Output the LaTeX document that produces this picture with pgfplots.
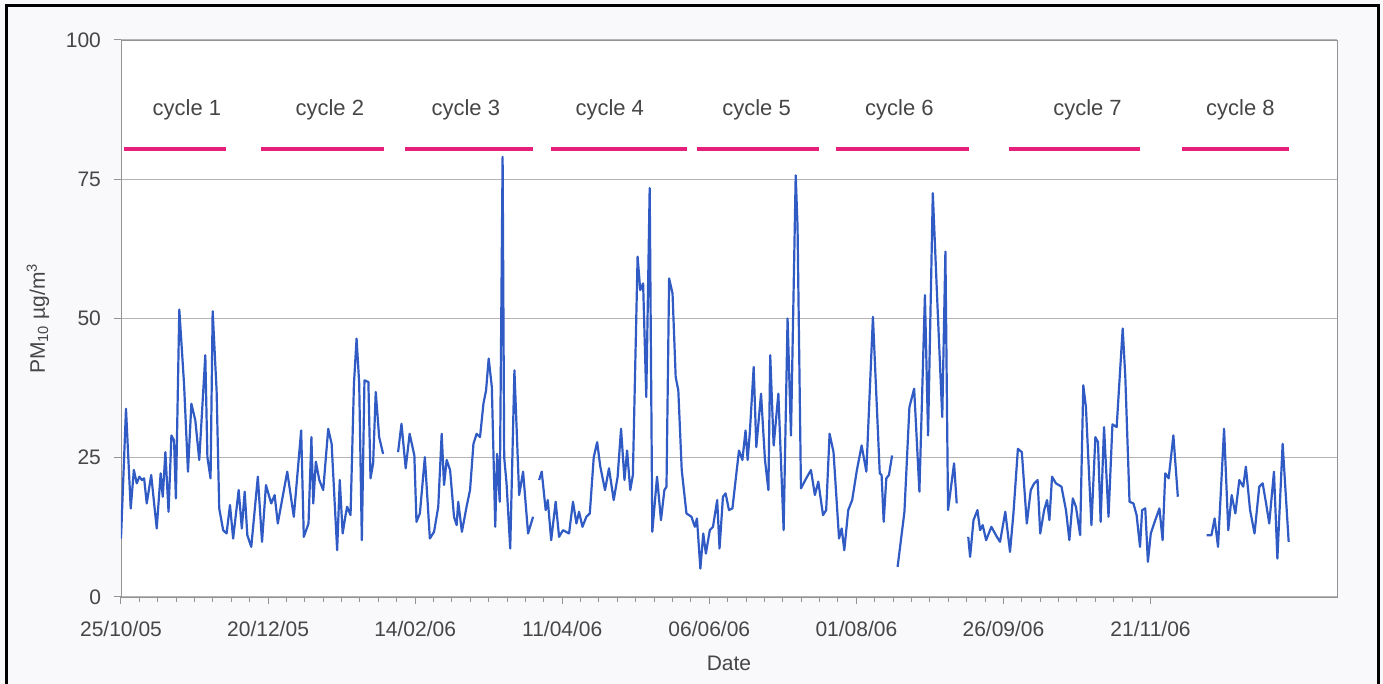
\documentclass[border=0pt]{standalone}
\usepackage{pgfplots}
\pgfplotsset{compat=1.18}
\usepackage{fontspec}
\setmainfont{Liberation Sans}
\definecolor{pmblue}{RGB}{48,90,196}
\definecolor{cyclepink}{RGB}{228,32,122}
\definecolor{gridgray}{RGB}{180,180,180}
\definecolor{labelgray}{RGB}{70,70,70}
\definecolor{bgtint}{RGB}{249,249,252}
\begin{document}
\begin{tikzpicture}[x=1pt,y=1pt]
\useasboundingbox (-60.5,-43.5) rectangle (631,298.5);
\fill[bgtint] (-60.5,-43.5) rectangle (631,298.5);
\draw[black, line width=1.5pt] (-57,-60) -- (-57,295.5) -- (628.5,295.5) -- (628.5,-60);
\begin{axis}[
  at={(0,0)}, anchor=south west, scale only axis,
  width=608pt, height=278.5pt,
  xmin=0, xmax=463, ymin=0, ymax=100,
  unbounded coords=jump,
  axis background/.style={fill=white},
  axis line style={draw=gray!85},
  ytick={0,25,50,75,100},
  ymajorgrids, grid style={gridgray, line width=0.5pt},
  xtick={0,56,112,168,224,280,336,392},
  xticklabels={25/10/05,20/12/05,14/02/06,11/04/06,06/06/06,01/08/06,26/09/06,21/11/06},
  minor x tick num=7,
  tick align=outside, tick pos=left,
  major tick length=3.5pt, minor tick length=2.5pt,
  tick style={gray!85, line width=0.5pt},
  /pgf/number format/assume math mode=true,
  tick label style={font=\fontsize{10.5}{12}\selectfont, text=labelgray},
  xticklabel style={yshift=-5pt},
  yticklabel style={xshift=-3pt},
  every axis x label/.style={at={(axis description cs:0.5,0)}, anchor=center, yshift=-33pt, font=\fontsize{10.5}{12}\selectfont, text=labelgray},
  every axis y label/.style={at={(axis description cs:-0.0683,0.5)}, rotate=90, anchor=center, font=\fontsize{10.5}{12}\selectfont, text=labelgray},
  xlabel={Date},
  ylabel={PM\textsubscript{10} µg/m\textsuperscript{3}},
]
\addplot[pmblue, line width=1.1pt, line join=round] table[row sep=\\] {
x y\\
0 10.5\\ 1.9 33.8\\ 3.7 15.9\\ 4.9 22.8\\ 6.0 20.4\\ 7.0 21.6\\ 8.0 21.0\\ 8.8 21.3\\ 9.8 16.8\\
11.5 21.9\\ 13.6 12.3\\ 15.1 22.2\\ 15.9 18.0\\ 16.9 26.0\\ 18.1 15.3\\ 19.2 29.0\\ 20.2 28.1\\
20.9 17.7\\ 22.2 51.6\\ 24.0 38.3\\ 25.5 22.5\\ 26.8 34.7\\ 28.3 31.7\\ 29.8 24.6\\ 32.1 43.4\\
32.9 25.1\\ 34.1 21.3\\ 34.9 51.3\\ 36.4 37.1\\ 37.4 15.9\\ 38.9 12.0\\ 40.2 11.4\\ 41.5 16.5\\
42.7 10.5\\ 44.8 19.2\\ 46.0 12.3\\ 47.1 18.9\\ 48.1 11.1\\ 49.6 9.0\\ 52.1 21.6\\ 53.7 9.9\\
55.2 20.1\\ 57.2 16.8\\ 58.5 18.3\\ 59.7 13.2\\ 63.3 22.5\\ 65.8 14.4\\ 68.6 29.9\\ 69.6 10.8\\
71.4 13.2\\ 72.5 28.7\\ 73.2 16.8\\ 74.2 24.3\\ 75.5 21.0\\ 77.0 19.2\\ 78.9 30.2\\ 80.2 27.5\\
82.3 8.4\\ 83.3 21.0\\ 84.4 11.4\\ 85.4 14.4\\ 86.1 16.2\\ 87.4 14.7\\ 88.7 38.3\\ 89.7 46.4\\
90.7 38.3\\ 91.7 10.2\\ 92.7 38.9\\ 94.2 38.6\\ 95.0 21.3\\ 96.0 24.0\\ 97.0 36.8\\ 98.3 28.7\\
99.8 25.7\\ 102 nan\\
105.5 26.0\\ 106.8 31.1\\ 108.4 23.1\\ 109.9 29.3\\ 111.7 25.4\\ 112.5 13.5\\ 113.8 15.0\\
115.7 25.1\\ 117.6 10.5\\ 119.2 11.7\\ 120.8 16.2\\ 122.1 29.3\\ 123.0 20.1\\ 124.0 24.6\\
125.3 22.8\\ 126.8 14.4\\ 127.8 12.9\\ 128.4 17.1\\ 129.8 11.7\\ 131.7 16.5\\ 132.9 19.2\\
134.2 27.5\\ 135.4 29.3\\ 136.7 28.7\\ 138.0 34.7\\ 139.0 37.1\\ 140.0 42.8\\ 141.2 37.7\\
142.5 12.6\\ 143.2 25.7\\ 144.2 17.1\\ 145.3 79.0\\ 145.9 25.1\\ 146.8 20.4\\ 148.2 8.7\\
149.8 40.7\\ 151.6 18.3\\ 153.1 22.5\\ 155.0 11.4\\ 156.9 14.4\\ 158 nan\\
159.2 21.0\\ 160.2 22.5\\ 161.7 15.6\\ 162.5 17.4\\ 163.8 10.2\\ 165.5 17.1\\ 166.8 10.8\\
168.3 12.0\\ 170.6 11.4\\ 172.1 17.1\\ 173.4 13.2\\ 174.4 15.3\\ 175.7 12.6\\ 177.2 14.4\\
178.5 15.0\\ 180.0 25.1\\ 181.3 27.8\\ 182.5 23.4\\ 184.3 19.2\\ 185.8 23.1\\ 187.6 17.4\\
189.1 21.6\\ 190.4 30.2\\ 191.7 21.0\\ 192.7 26.3\\ 193.9 19.2\\ 194.9 21.9\\ 196.7 61.1\\
197.7 55.1\\ 198.8 56.3\\ 200.0 35.9\\ 201.3 73.4\\ 202.3 11.7\\ 204.1 21.6\\ 205.6 13.8\\
206.9 19.2\\ 207.7 19.8\\ 208.7 57.2\\ 210.0 54.5\\ 211.2 39.5\\ 212.2 37.1\\ 213.5 22.8\\
215.3 15.0\\ 217.2 14.4\\ 218.5 12.6\\ 219.3 14.1\\ 220.6 5.1\\ 221.7 11.4\\ 222.7 7.8\\
224.2 12.0\\ 225.4 12.6\\ 227.0 17.4\\ 227.9 8.7\\ 229.2 18.0\\ 230.2 18.6\\ 231.5 15.6\\
232.8 15.9\\ 235.3 26.3\\ 236.6 24.6\\ 237.8 29.9\\ 238.6 24.6\\ 239.4 29.3\\ 240.9 41.3\\
241.9 26.9\\ 243.7 36.5\\ 245.2 24.6\\ 246.5 19.2\\ 247.2 43.4\\ 248.5 27.2\\ 250.3 36.5\\
252.3 12.0\\ 253.8 50.0\\ 255.1 29.0\\ 256.9 75.7\\ 257.6 66.5\\ 258.9 19.5\\ 260.9 21.3\\
262.7 22.8\\ 264.2 18.3\\ 265.5 20.7\\ 267.3 14.7\\ 268.5 15.6\\ 269.8 29.3\\ 271.3 26.0\\
273.4 10.5\\ 274.4 12.3\\ 275.4 8.4\\ 276.9 15.6\\ 278.4 17.4\\ 280.2 22.8\\ 282.0 27.2\\
283.8 22.5\\ 286.3 50.3\\ 288.9 22.2\\ 289.6 21.9\\ 290.4 13.5\\ 291.4 21.3\\ 292.4 21.9\\
293.6 25.4\\ 294.6 nan\\
295.7 5.4\\ 298.3 15.3\\ 300.2 34.1\\ 302.0 37.4\\ 304.0 18.9\\ 306.1 54.2\\ 307.3 29.0\\
309.1 72.5\\ 310.9 52.1\\ 312.7 32.3\\ 313.9 62.0\\ 314.9 15.6\\ 317.2 24.0\\ 318.2 16.8\\
320 nan\\
322.6 10.8\\ 323.3 7.2\\ 324.6 13.8\\ 326.1 15.6\\ 327.1 12.0\\ 328.1 12.9\\ 329.4 10.2\\
331.4 12.6\\ 333.5 10.8\\ 334.7 9.9\\ 336.7 15.3\\ 338.5 8.1\\ 339.8 15.0\\ 341.5 26.6\\
343.0 26.0\\ 344.9 13.2\\ 346.4 19.2\\ 347.7 20.4\\ 349.0 21.0\\ 350.0 11.4\\ 351.5 15.6\\
352.6 17.4\\ 353.5 13.8\\ 354.5 21.6\\ 356.0 20.4\\ 358.1 19.8\\ 359.8 15.6\\ 361.1 10.2\\
362.4 17.7\\ 363.6 16.2\\ 365.2 11.1\\ 366.4 38.0\\ 367.4 34.1\\ 369.5 12.9\\ 371.0 28.7\\
372.0 27.8\\ 373.0 13.5\\ 374.3 30.5\\ 376.0 14.4\\ 377.5 31.0\\ 379.1 30.5\\ 381.4 48.2\\
382.4 39.5\\ 384.0 17.1\\ 385.5 16.8\\ 386.7 14.7\\ 388.0 9.0\\ 388.8 15.6\\ 390.0 15.9\\
391.0 6.3\\ 392.1 11.4\\ 393.8 13.8\\ 395.4 15.9\\ 396.6 10.2\\ 397.6 22.2\\ 398.9 21.3\\
400.7 29.0\\ 402.4 18.0\\ 405 nan\\
413.4 11.1\\ 415.2 11.1\\ 416.4 14.1\\ 417.7 9.0\\ 420.0 30.2\\ 421.6 12.0\\ 422.9 18.3\\
424.3 15.0\\ 425.8 21.0\\ 427.3 19.8\\ 428.3 23.4\\ 429.9 15.6\\ 431.6 11.4\\ 433.4 19.8\\
434.7 20.4\\ 436.0 16.8\\ 437.2 13.2\\ 439.0 22.5\\ 440.3 6.9\\ 442.3 27.5\\ 444.6 9.9\\
};
\addplot[cyclepink, line width=2pt] table[row sep=\\] {
x y\\
1.1 80.5\\ 40.0 80.5\\ 45 nan\\
53.3 80.5\\ 100.1 80.5\\ 104 nan\\
108.1 80.5\\ 156.8 80.5\\ 160 nan\\
163.6 80.5\\ 215.4 80.5\\ 217 nan\\
219.2 80.5\\ 265.6 80.5\\ 268 nan\\
272.3 80.5\\ 322.9 80.5\\ 330 nan\\
338.3 80.5\\ 387.8 80.5\\ 395 nan\\
404.1 80.5\\ 444.7 80.5\\
};
\begin{scope}[every node/.style={font=\fontsize{11}{13}\selectfont, text=labelgray}]
\node at (axis cs:25.1,87.4) {cycle 1};
\node at (axis cs:79.5,87.4) {cycle 2};
\node at (axis cs:131.3,87.4) {cycle 3};
\node at (axis cs:186.1,87.4) {cycle 4};
\node at (axis cs:242.0,87.4) {cycle 5};
\node at (axis cs:296.4,87.4) {cycle 6};
\node at (axis cs:368.0,87.4) {cycle 7};
\node at (axis cs:426.2,87.4) {cycle 8};
\end{scope}
\end{axis}
\end{tikzpicture}
\end{document}
